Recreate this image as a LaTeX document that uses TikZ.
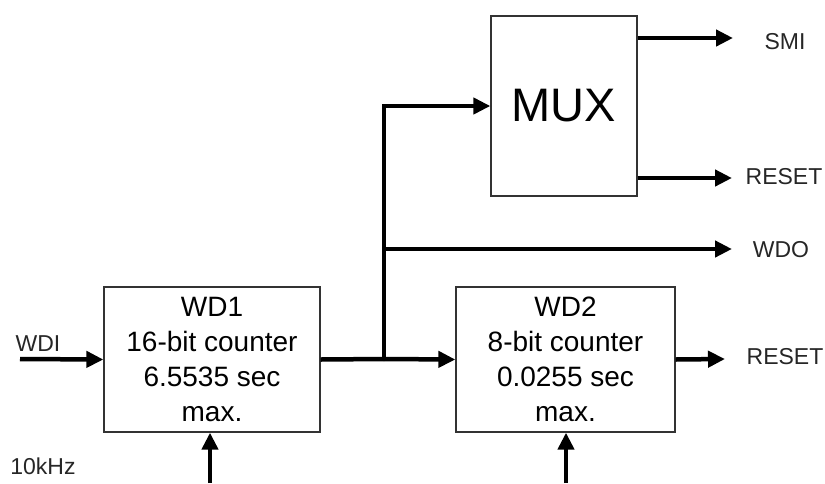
\documentclass[tikz,border=0pt]{standalone}
\usepackage{fontspec}
\setmainfont{Liberation Sans}
\usetikzlibrary{arrows.meta,positioning}
\begin{document}
\begin{tikzpicture}[x=1pt,y=-1pt]
\tikzstyle{block}=[rectangle, draw=black!80, line width=1.3pt, align=center, inner sep=0pt, font=\fontsize{28}{35}\selectfont]
\tikzstyle{connect}=[-{Triangle[length=17pt,width=16pt]}, line width=4.5pt]
\tikzstyle{wire}=[line width=4.5pt]
\tikzstyle{sig}=[inner sep=0pt, text=black!85, font=\fontsize{23}{28}\selectfont]
\useasboundingbox (0,0) rectangle (825,483);
  \node[block, minimum width=216pt, minimum height=145pt] (wd1) at (212,359.5) {WD1\\16-bit counter\\6.5535 sec\\max.};
  \node[block, minimum width=219pt, minimum height=145pt] (wd2) at (565.5,359.5) {WD2\\8-bit counter\\0.0255 sec\\max.};
  \node[block, minimum width=146pt, minimum height=180pt, font=\fontsize{47}{50}\selectfont] (mux) at (564,106) {MUX};
  % free ends of the signals
  \coordinate (wdistart) at (20,359);
  \coordinate (split) at (384,359);
  \coordinate (tap) at (384,249);
  \coordinate (wdoend) at (732,249);
  \coordinate (smiend) at (733,38);
  \coordinate (rstend) at (732,178);
  \coordinate (wdrstend) at (725,359);
  \coordinate (clka) at (210,483);
  \coordinate (clkb) at (566,483);
  \node[sig] (wdi) at (38,344) {WDI};
  \node[sig] (khz) at (43,466) {10kHz};
  \node[sig] (smi) at (785,42) {SMI};
  \node[sig] (rst) at (784,177) {RESET};
  \node[sig] (wdo) at (781,250) {WDO};
  \node[sig] (wdrst) at (785,357) {RESET};
  \draw[connect] (wdistart) -- (wd1.west);
  \draw[wire] (wd1.east) -- (split);
  \draw[connect] (split) -- (wd2.west);
  \draw[connect] (split) |- (mux.west);
  \draw[connect] (tap) -- (wdoend);
  \draw[connect] (smiend -| mux.east) -- (smiend);
  \draw[connect] (rstend -| mux.east) -- (rstend);
  \draw[connect] (wd2.east) -- (wdrstend);
  \draw[connect] (clka) -- (clka |- wd1.south);
  \draw[connect] (clkb) -- (clkb |- wd2.south);
\end{tikzpicture}
\end{document}
